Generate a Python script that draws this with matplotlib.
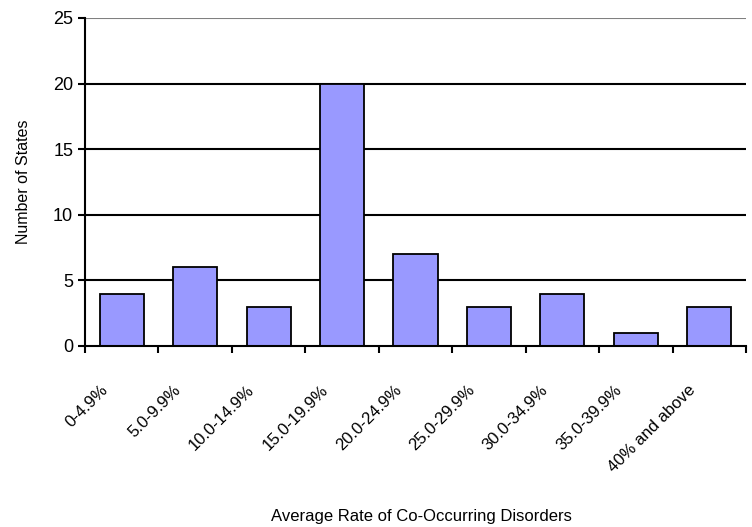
import matplotlib
matplotlib.use("Agg")
import matplotlib.pyplot as plt
import matplotlib.transforms as mtransforms
import numpy as np

plt.rcParams['font.family'] = ['Liberation Sans', 'DejaVu Sans']

kategorije = ["0-4.9%", "5.0-9.9%", "10.0-14.9%", "15.0-19.9%", "20.0-24.9%",
              "25.0-29.9%", "30.0-34.9%", "35.0-39.9%", "40% and above"]
broj_drzava = [4, 6, 3, 20, 7, 3, 4, 1, 3]
y_ticks = [0, 5, 10, 15, 20, 25]

fig = plt.figure(figsize=(7.52, 5.27), dpi=100)
ax = fig.add_axes([85 / 752, 1 - 346 / 527, 661 / 752, 328 / 527])

x = np.arange(len(kategorije))
ax.bar(x, broj_drzava, width=0.6, color='#9999FF', edgecolor='black', linewidth=1.3, zorder=3)

ax.set_xlim(-0.5, len(kategorije) - 0.5)
ax.set_ylim(0, 25)
ax.set_yticks(y_ticks)
for v in y_ticks[1:]:
    ax.axhline(v, color='black' if v < 25 else '#808080', linewidth=1.5, zorder=1)

# tickovi na granicama kategorija, labele na sredini
ax.set_xticks(np.arange(len(kategorije) + 1) - 0.5)
ax.set_xticklabels([])
ax.set_xticks(x, minor=True)
ax.set_xticklabels(kategorije, minor=True, rotation=45, ha='right',
                   rotation_mode='anchor', fontsize=12)
ax.tick_params(axis='x', which='minor', length=0, pad=26)
ax.tick_params(axis='x', which='major', length=5, width=1.5, direction='out')
ax.tick_params(axis='y', length=5, width=1.5, direction='out', labelsize=13)

pomak = mtransforms.ScaledTranslation(-22 / 100, 0, fig.dpi_scale_trans)
for lbl in ax.xaxis.get_minorticklabels():
    lbl.set_transform(lbl.get_transform() + pomak)

for s in ['top', 'right']:
    ax.spines[s].set_visible(False)
ax.spines['left'].set_linewidth(1.5)
ax.spines['bottom'].set_linewidth(1.5)
ax.spines['bottom'].set_zorder(4)

ax.set_ylabel('Number of States', fontsize=11.5, labelpad=16)
fig.text(0.5 + 45 / 752, 1 - 516 / 527, 'Average Rate of Co-Occurring Disorders',
         ha='center', va='center', fontsize=12)

plt.savefig('out.png', dpi=100)
